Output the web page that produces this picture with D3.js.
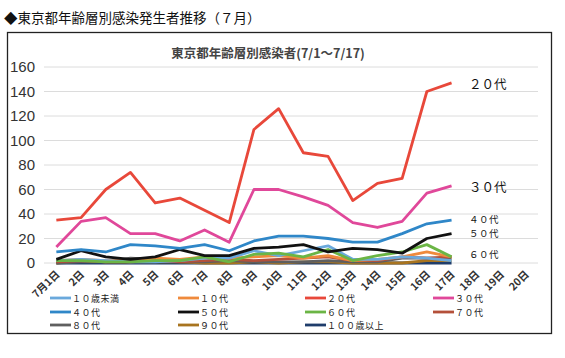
<!DOCTYPE html>
<html>
<head>
<meta charset="utf-8">
<script src="https://cdn.jsdelivr.net/npm/d3@7"></script>
<style>
    body { margin: 0; background: #fff; }
    svg { display: block; }
</style>
</head>
<body>
<div id="chart"></div>
<script>
// Data (7/1 - 7/17)
var days = ["7月1日", "2日", "3日", "4日", "5日", "6日", "7日", "8日", "9日", "10日",
    "11日", "12日", "13日", "14日", "15日", "16日", "17日", "18日", "19日", "20日"];

var seriesNames = ["１０歳未満", "１０代", "２０代", "３０代", "４０代", "５０代",
    "６０代", "７０代", "８０代", "９０代", "１００歳以上"];

var under10 = [2, 3, 2, 1, 1, 2, 4, 4, 10, 6, 10, 14, 3, 3, 5, 4, 2];
var teens   = [2, 3, 2, 2, 4, 3, 5, 4, 5, 6, 4, 6, 2, 3, 5, 9, 5];
var age20   = [35, 37, 60, 74, 49, 53, 43, 33, 109, 126, 90, 87, 51, 65, 69, 140, 147];
var age30   = [13, 34, 37, 24, 24, 18, 27, 17, 60, 60, 54, 47, 33, 29, 34, 57, 63];
var age40   = [9, 11, 9, 15, 14, 12, 15, 10, 18, 22, 22, 20, 17, 17, 24, 32, 35];
var age50   = [3, 10, 5, 3, 5, 11, 6, 6, 12, 13, 15, 9, 12, 11, 8, 20, 24];
var age60   = [2, 2, 1, 1, 2, 2, 5, 1, 7, 8, 5, 11, 2, 6, 9, 15, 5];
var age70   = [1, 2, 1, 1, 2, 1, 2, 3, 2, 3, 4, 5, 2, 2, 5, 4, 5];
var age80   = [0, 1, 1, 4, 3, 1, 1, 2, 1, 1, 1, 2, 1, 1, 4, 4, 4];
var age90   = [0, 2, 1, 1, 1, 1, 0, 0, 1, 0, 1, 1, 0, 0, 0, 2, 2];
var over100 = [0, 0, 0, 0, 0, 0, 0, 0, 0, 0, 0, 0, 0, 0, 0, 0, 0];

var yTicks = [0, 20, 40, 60, 80, 100, 120, 140, 160];

var seriesValues = [under10, teens, age20, age30, age40, age50, age60, age70, age80, age90, over100];
var colors = ["#6aa9dc", "#ef8a3c", "#e8483a", "#e0489a", "#2f87c8", "#111111",
    "#6bb545", "#b4503a", "#5f5f5f", "#a8741f", "#1f3d6b"];

// draw order: small series first so the big ones sit on top
var drawOrder = [10, 9, 8, 7, 1, 0, 6, 5, 4, 3, 2];

var svg = d3.select("#chart").append("svg")
    .attr("width", 565)
    .attr("height", 358);

// Page title
svg.append("text")
    .attr("x", 4)
    .attr("y", 23)
    .attr("font-family", "Noto Sans CJK JP")
    .attr("font-size", "13.5px")
    .attr("fill", "#111")
    .text("◆東京都年齢層別感染発生者推移（７月）");

// Outer frame
svg.append("rect")
    .attr("x", 7.5)
    .attr("y", 32.5)
    .attr("width", 544)
    .attr("height", 301)
    .attr("fill", "#fff")
    .attr("stroke", "#222")
    .attr("stroke-width", 1.3);

// Chart title
svg.append("text")
    .attr("x", 268)
    .attr("y", 58)
    .attr("text-anchor", "middle")
    .attr("font-family", "Noto Sans CJK JP")
    .attr("font-weight", "bold")
    .attr("font-size", "12.5px")
    .attr("fill", "#444")
    .text("東京都年齢層別感染者(7/1～7/17)");

// Scales
var x = d3.scaleBand()
    .domain(days)
    .range([44, 538]);

var y = d3.scaleLinear()
    .domain([0, 160])
    .range([263, 67]);

// Gridlines
svg.append("g")
    .selectAll("line")
    .data(yTicks)
    .enter().append("line")
    .attr("x1", 44)
    .attr("x2", 538)
    .attr("y1", function (d) { return y(d); })
    .attr("y2", function (d) { return y(d); })
    .attr("stroke", "#dcdcdc")
    .attr("stroke-width", 1);

// Y axis labels
var yAxis = svg.append("g")
    .attr("transform", "translate(44,0)")
    .call(d3.axisLeft(y).tickValues(yTicks).tickSize(0).tickPadding(9));
yAxis.select(".domain").remove();
yAxis.selectAll("text")
    .attr("font-family", "Liberation Sans Narrow, Arial Narrow, sans-serif")
    .attr("font-size", "15px")
    .attr("fill", "#333");

// X axis labels, rotated
var xAxis = svg.append("g")
    .attr("transform", "translate(0,263)")
    .call(d3.axisBottom(x).tickSize(0).tickPadding(0));
xAxis.select(".domain").remove();
xAxis.selectAll("text")
    .attr("font-family", "Noto Sans CJK JP")
    .attr("font-size", "10.5px")
    .attr("font-weight", "bold")
    .attr("fill", "#333")
    .attr("text-anchor", "end")
    .attr("dy", "0")
    .attr("transform", "translate(4,12) rotate(-45)");

// Lines
var line = d3.line()
    .x(function (d, i) { return x(days[i]) + x.bandwidth() / 2; })
    .y(function (d) { return y(d); });

drawOrder.forEach(function (k) {
    svg.append("path")
        .datum(seriesValues[k])
        .attr("fill", "none")
        .attr("stroke", colors[k])
        .attr("stroke-width", 2.8)
        .attr("stroke-linejoin", "round")
        .attr("d", line);
});

// Labels at the right end of the lines
var endLabels = [
    {name: "２０代", y: 89, size: "12.5px", ls: "0px"},
    {name: "３０代", y: 192, size: "12.5px", ls: "0px"},
    {name: "４０代", y: 222.5, size: "9.5px", ls: "0.5px"},
    {name: "５０代", y: 237, size: "9.5px", ls: "0.5px"},
    {name: "６０代", y: 258, size: "9.5px", ls: "0.5px"}
];
svg.append("g")
    .selectAll("text")
    .data(endLabels)
    .enter().append("text")
    .attr("x", 469)
    .attr("y", function (d) { return d.y; })
    .attr("font-family", "Noto Sans CJK JP")
    .attr("font-size", function (d) { return d.size; })
    .attr("letter-spacing", function (d) { return d.ls; })
    .attr("fill", "#111")
    .text(function (d) { return d.name; });

// Legend, 4 columns
var colX = [50, 178, 305, 433];
var rowY = [298, 312, 325];

var legend = svg.append("g")
    .selectAll("g")
    .data(seriesNames)
    .enter().append("g")
    .attr("transform", function (d, i) {
        return "translate(" + colX[i % 4] + "," + rowY[Math.floor(i / 4)] + ")";
    });

legend.append("line")
    .attr("x1", 0)
    .attr("x2", 21)
    .attr("stroke", function (d, i) { return colors[i]; })
    .attr("stroke-width", 2.8);

legend.append("text")
    .attr("x", 22)
    .attr("y", 3.5)
    .attr("font-family", "Noto Sans CJK JP")
    .attr("font-size", "9px")
    .attr("letter-spacing", "0.5px")
    .attr("fill", "#222")
    .text(function (d) { return d; });
</script>
</body>
</html>
